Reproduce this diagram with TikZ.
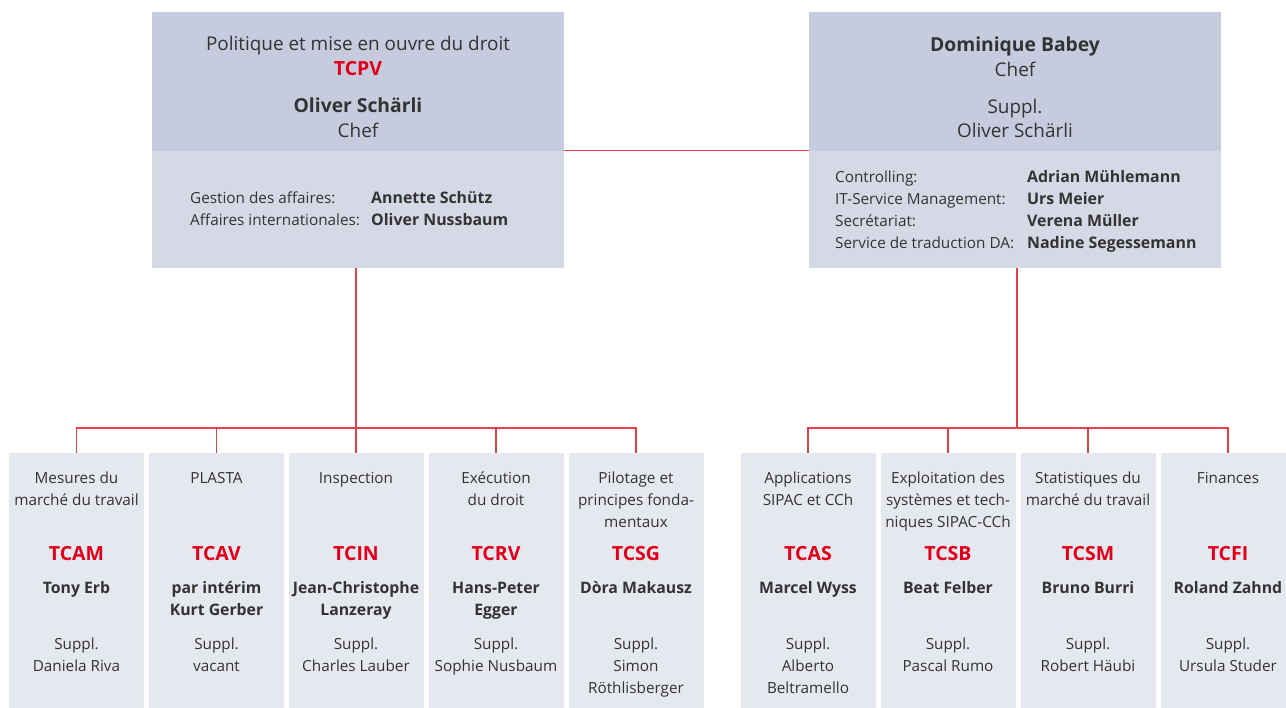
\documentclass[tikz,border=0pt]{standalone}
\usepackage{fontspec}
\setmainfont{Open Sans}
\usepackage{xcolor}

\definecolor{headblue}{HTML}{C6CCDD}
\definecolor{infoblue}{HTML}{D5D9E6}
\definecolor{unitgray}{HTML}{E6E8EF}
\definecolor{linkred}{HTML}{E6404A}
\definecolor{codered}{HTML}{E2001A}
\definecolor{inkgray}{HTML}{333333}

\tikzset{
  head/.style={fill=headblue, minimum width=412pt, minimum height=139pt, inner sep=0pt},
  info/.style={fill=infoblue, minimum width=412pt, minimum height=117pt, inner sep=0pt},
  unitbox/.style={fill=unitgray, minimum width=135pt, minimum height=270pt, inner sep=0pt, anchor=north},
  link/.style={draw=linkred, line width=1.1pt},
  headtext/.style={anchor=base, inner sep=0pt, text=inkgray, font=\fontsize{18.9}{21}\selectfont},
  headbold/.style={headtext, font=\fontsize{19.3}{21}\selectfont\bfseries},
  listtext/.style={anchor=base west, inner sep=0pt, text=inkgray, font=\fontsize{15.3}{18}\selectfont},
  listbold/.style={listtext, font=\fontsize{15.9}{18}\selectfont\bfseries},
  unittext/.style={anchor=base, inner sep=0pt, text=inkgray, font=\fontsize{15.3}{18}\selectfont},
  unitbold/.style={unittext, font=\fontsize{15.8}{18}\selectfont\bfseries},
  codetext/.style={anchor=base, inner sep=0pt, text=codered, font=\fontsize{19.5}{22}\selectfont\bfseries},
}

% one column of the lower row: name, x, title lines, code, head lines, deputy lines
\newcommand{\unitcol}[6]{%
  \node[unitbox] (#1) at (#2,453) {};
  \foreach \tx [count=\nn] in {#3}
    \node[unittext] (#1-t\nn) at (#2,462+22*\nn) {\tx};
  \node[codetext] (#1-c) at (#2,561) {#4};
  \foreach \tx [count=\nn] in {#5}
    \node[unitbold] (#1-n\nn) at (#2,571+22*\nn) {\tx};
  \foreach \tx [count=\nn] in {Suppl.,#6}
    \node[unittext] (#1-s\nn) at (#2,627+22*\nn) {\tx};
}

\begin{document}
\begin{tikzpicture}[x=1pt, y=-1pt]
  \useasboundingbox[fill=white] (0,0) rectangle (1286,708);

  % left head
  \node[head] (tcpv) at (358,81.5) {};
  \node[info] (tcpvinfo) at (358,209.5) {};
  \node[headtext] (tcpv-l1) at (358,51) {Politique et mise en ouvre du droit};
  \node[codetext] (tcpv-l2) at (358,76) {TCPV};
  \node[headbold] (tcpv-l3) at (358,113) {Oliver Schärli};
  \node[headtext] (tcpv-l4) at (358,138) {Chef};
  \node[listtext] (tcpv-a1) at (190,204) {Gestion des affaires:};
  \node[listtext] (tcpv-a2) at (190,226) {Affaires internationales:};
  \node[listbold] (tcpv-b1) at (371,204) {Annette Schütz};
  \node[listbold] (tcpv-b2) at (371,226) {Oliver Nussbaum};

  % right head
  \node[head] (tcb) at (1015,81.5) {};
  \node[info] (tcbinfo) at (1015,209.5) {};
  \node[headbold] (tcb-l1) at (1015,52) {Dominique Babey};
  \node[headtext] (tcb-l2) at (1015,77) {Chef};
  \node[headtext] (tcb-l3) at (1015,114) {Suppl.};
  \node[headtext] (tcb-l4) at (1015,138) {Oliver Schärli};
  \node[listtext] (tcb-a1) at (835,183) {Controlling:};
  \node[listtext] (tcb-a2) at (835,205) {IT-Service Management:};
  \node[listtext] (tcb-a3) at (835,227) {Secrétariat:};
  \node[listtext] (tcb-a4) at (835,249) {Service de traduction DA:};
  \node[listbold] (tcb-b1) at (1027,183) {Adrian Mühlemann};
  \node[listbold] (tcb-b2) at (1027,205) {Urs Meier};
  \node[listbold] (tcb-b3) at (1027,227) {Verena Müller};
  \node[listbold] (tcb-b4) at (1027,249) {Nadine Segessemann};

  % lower row
  \unitcol{tcam}{76.5}{Mesures du,marché du travail}{TCAM}{Tony Erb}{Daniela Riva}
  \unitcol{tcav}{216.5}{PLASTA}{TCAV}{par intérim,Kurt Gerber}{vacant}
  \unitcol{tcin}{356}{Inspection}{TCIN}{Jean-Christophe,Lanzeray}{Charles Lauber}
  \unitcol{tcrv}{496}{Exécution,du droit}{TCRV}{Hans-Peter,Egger}{Sophie Nusbaum}
  \unitcol{tcsg}{636}{Pilotage et,principes fonda-,mentaux}{TCSG}{Dòra Makausz}{Simon,Röthlisberger}
  \unitcol{tcas}{808}{Applications,SIPAC et CCh}{TCAS}{Marcel Wyss}{Alberto,Beltramello}
  \unitcol{tcsb}{948}{Exploitation des,systèmes et tech-,niques SIPAC-CCh}{TCSB}{Beat Felber}{Pascal Rumo}
  \unitcol{tcsm}{1088}{Statistiques du,marché du travail}{TCSM}{Bruno Burri}{Robert Häubi}
  \unitcol{tcfi}{1228}{Finances}{TCFI}{Roland Zahnd}{Ursula Studer}

  % connectors
  \draw[link] (tcpvinfo.north east) -- (tcbinfo.north west);
  \coordinate (lbus) at (356,428);
  \coordinate (rbus) at (1017,428);
  \draw[link] (tcpvinfo.south -| lbus) -- (lbus);
  \draw[link] (tcbinfo.south -| rbus) -- (rbus);
  \draw[link] (tcam.north) -- (tcam.north |- lbus) -- (tcsg.north |- lbus) -- (tcsg.north);
  \draw[link] (tcas.north) -- (tcas.north |- rbus) -- (tcfi.north |- rbus) -- (tcfi.north);
  \foreach \u in {tcav,tcin,tcrv}
    \draw[link] (\u.north) -- (\u.north |- lbus);
  \foreach \u in {tcsb,tcsm}
    \draw[link] (\u.north) -- (\u.north |- rbus);
\end{tikzpicture}
\end{document}
